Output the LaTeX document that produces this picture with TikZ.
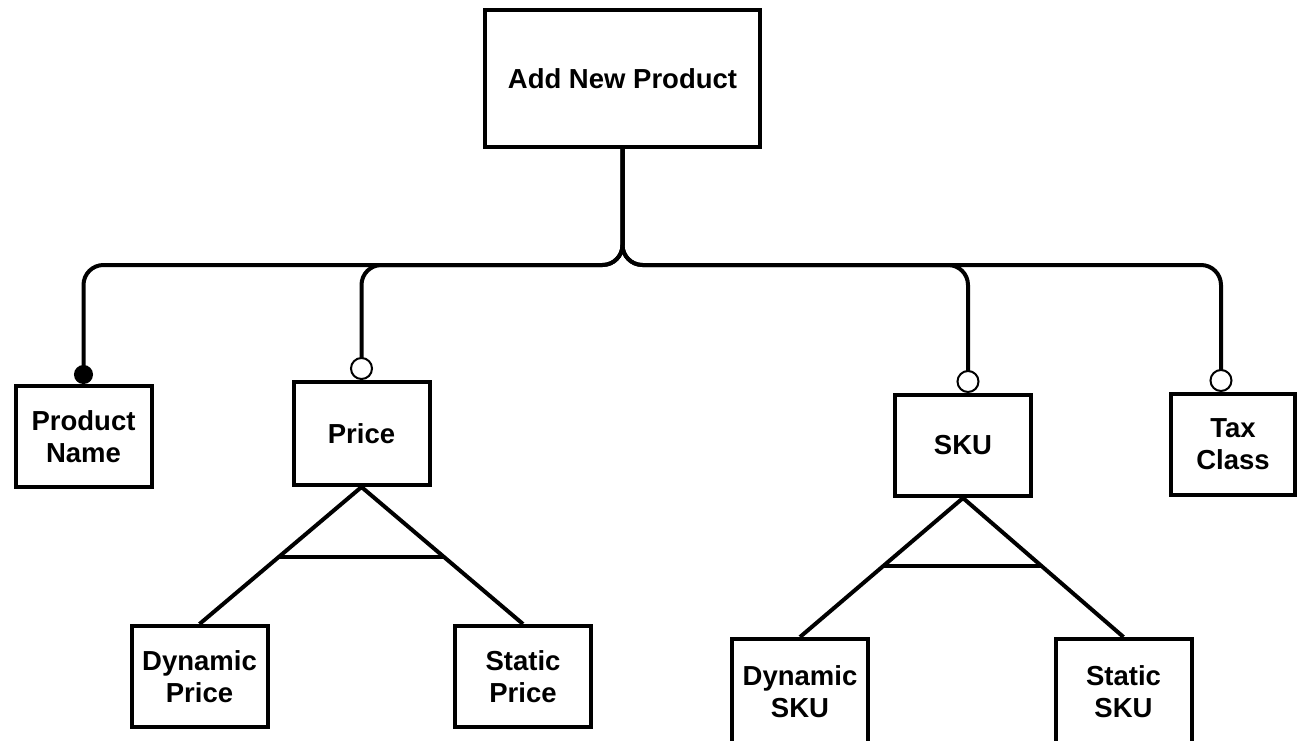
\documentclass[tikz,border=0pt]{standalone}
\usepackage{fontspec}
\setmainfont{Liberation Sans}
\usetikzlibrary{arrows.meta}

\begin{document}
\begin{tikzpicture}[x=1pt, y=-1pt,
  entity/.style={draw, line width=4pt, minimum width=136pt, minimum height=101pt,
    inner sep=0pt, align=center, font=\fontsize{27.5}{32}\selectfont\bfseries},
  link/.style={line width=4pt, rounded corners=20pt},
  one/.style={-{Circle[length=19pt]}},
  opt/.style={-{Circle[open, fill=white, length=23pt, line width=2pt]}}]
\path[use as bounding box] (0,0) rectangle (1299,740);

\node[entity, minimum width=275pt, minimum height=137pt] (add) at (622.5,78.5) {Add New Product};

\node[entity] (pname) at (83.5,436.5) {Product\\Name};
\node[entity, minimum height=103pt] (price) at (361.5,433.5) {Price};
\node[entity] (sku) at (963,445.5) {SKU};
\node[entity, minimum width=124pt] (tax) at (1233,444.5) {Tax\\Class};

\node[entity] (dprice) at (199.5,676.5) {Dynamic\\Price};
\node[entity] (sprice) at (523,676.5) {Static\\Price};
\node[entity, minimum height=106pt] (dsku) at (800,692) {Dynamic\\SKU};
\node[entity, minimum height=106pt] (ssku) at (1123.5,692) {Static\\SKU};

% bus level and the drop points
\coordinate (bus) at (0,265);
\coordinate (skutop) at ([xshift=5pt]sku.north);
\coordinate (taxtop) at ([xshift=-12pt]tax.north);

\draw[link,one] (add.south) |- (pname.north |- bus) -- (pname.north);
\draw[link,opt] (add.south) |- (price.north |- bus) -- (price.north);
\draw[link,opt] (add.south) |- (skutop |- bus) -- (skutop);
\draw[link,opt] (add.south) |- (taxtop |- bus) -- (taxtop);

% subtypes
\draw[line width=4pt] (dprice.north) -- coordinate[pos=0.486] (pl) (price.south)
  -- coordinate[pos=0.514] (pr) (sprice.north);
\draw[line width=4pt] (pl) -- (pr);

\draw[line width=4pt] (dsku.north) -- coordinate[pos=0.51] (sl) (sku.south)
  -- coordinate[pos=0.49] (sr) (ssku.north);
\draw[line width=4pt] (sl) -- (sr);
\end{tikzpicture}
\end{document}
